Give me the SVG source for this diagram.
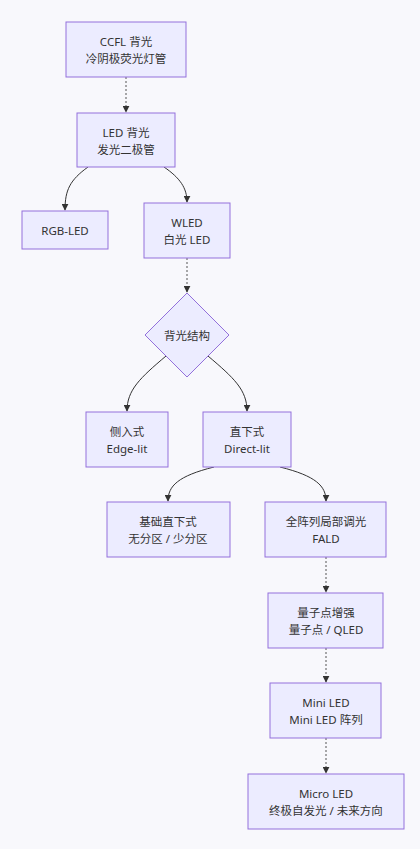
<svg xmlns="http://www.w3.org/2000/svg" width="420" height="849" viewBox="0 0 420 849">
<defs>
<marker id="arr" viewBox="0 0 10 10" refX="9" refY="5" markerWidth="7" markerHeight="7" orient="auto-start-reverse" markerUnits="userSpaceOnUse">
<path d="M0,0 L10,5 L0,10 z" fill="#333"/>
</marker>
<style>
.bg{fill:#f8f8fc}
.n{fill:#ececff;stroke:#9370db;stroke-width:1}
.t{font-family:"Noto Sans","Noto Sans CJK SC",sans-serif;font-size:11.5px;fill:#333;text-anchor:middle;dominant-baseline:central}
.e{fill:none;stroke:#333;stroke-width:1;marker-end:url(#arr)}
.d{stroke-dasharray:2 2;stroke:#555}
</style>
</defs>
<rect class="bg" x="0" y="0" width="420" height="849"/>
<g id="connectors">
<path class="e d" d="M126 77 L126 112"/>
<path class="e" d="M88 167 C70 180 65 190 65 210"/>
<path class="e" d="M164 167 C180 178 187 188 187 202"/>
<path class="e d" d="M187 258 L187 292"/>
<path class="e" d="M166 356 C140 378 127 390 127 411"/>
<path class="e" d="M208 356 C234 378 247 390 247 411"/>
<path class="e" d="M214 467 C178 476 168 486 168 501"/>
<path class="e" d="M280 467 C316 476 326 486 326 501"/>
<path class="e d" d="M326 557 L326 592"/>
<path class="e d" d="M326 648 L326 682"/>
<path class="e d" d="M326 738 L326 773"/>
</g>
<g id="ccfl"><rect class="n" x="66" y="22" width="120" height="55"/><text class="t" x="126" y="41">CCFL 背光</text><text class="t" x="126" y="58">冷阴极荧光灯管</text></g>
<g id="led"><rect class="n" x="77" y="113" width="98" height="54"/><text class="t" x="126" y="132">LED 背光</text><text class="t" x="126" y="149">发光二极管</text></g>
<g id="rgb"><rect class="n" x="22" y="211" width="86" height="38"/><text class="t" x="65" y="230">RGB-LED</text></g>
<g id="wled"><rect class="n" x="144" y="203" width="86" height="55"/><text class="t" x="187" y="222">WLED</text><text class="t" x="187" y="239">白光 LED</text></g>
<g id="struct"><polygon class="n" points="187,293 229,335 187,377 145,335"/><text class="t" x="187" y="335">背光结构</text></g>
<g id="edge"><rect class="n" x="86" y="412" width="82" height="55"/><text class="t" x="127" y="431">侧入式</text><text class="t" x="127" y="448">Edge-lit</text></g>
<g id="direct"><rect class="n" x="203" y="412" width="88" height="55"/><text class="t" x="247" y="431">直下式</text><text class="t" x="247" y="448">Direct-lit</text></g>
<g id="basic"><rect class="n" x="107" y="502" width="123" height="55"/><text class="t" x="168" y="521">基础直下式</text><text class="t" x="168" y="538">无分区 / 少分区</text></g>
<g id="fald"><rect class="n" x="265" y="502" width="121" height="55"/><text class="t" x="326" y="521">全阵列局部调光</text><text class="t" x="326" y="538">FALD</text></g>
<g id="qd"><rect class="n" x="268" y="593" width="115" height="55"/><text class="t" x="326" y="612">量子点增强</text><text class="t" x="326" y="629">量子点 / QLED</text></g>
<g id="mini"><rect class="n" x="270" y="683" width="111" height="55"/><text class="t" x="326" y="702">Mini LED</text><text class="t" x="326" y="719">Mini LED 阵列</text></g>
<g id="micro"><rect class="n" x="248" y="774" width="156" height="55"/><text class="t" x="326" y="793">Micro LED</text><text class="t" x="326" y="810">终极自发光 / 未来方向</text></g>
</svg>
